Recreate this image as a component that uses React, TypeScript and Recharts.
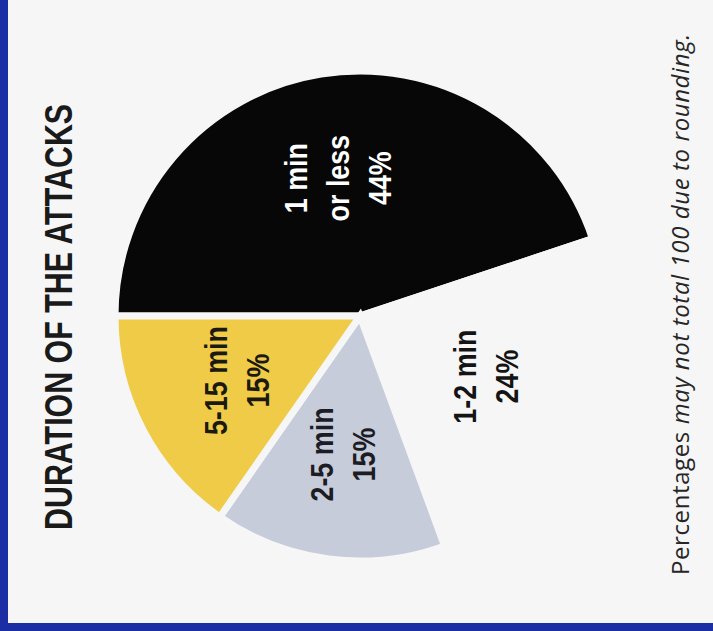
import { Cell, Pie, PieChart } from "recharts";

const categories = ["1 min or less", "1-2 min", "2-5 min", "5-15 min"];
const shares = [44, 24, 15, 15];
const labelLines = [["1 min", "or less"], ["1-2 min"], ["2-5 min"], ["5-15 min"]];

const PAPER = "#f6f6f7";
const BLUE = "#1b2ea3";
const COLORS = ["#070707", PAPER, "#c6ccda", "#efcb47"];
const TEXT_COLORS = ["#ffffff", "#141414", "#1c1c24", "#1c1a10"];
const HEAVY = '"Liberation Sans", Arial, sans-serif';

const data = categories.map((name, i) => ({ name, value: shares[i] }));

const RADIAN = Math.PI / 180;

const renderLabel = (props: any) => {
	const { cx, cy, midAngle, outerRadius } = props;
	const index = props.index ?? categories.indexOf(props.name);
	const r = outerRadius * 0.57;
	const x = cx + r * Math.cos(-midAngle * RADIAN);
	const y = cy + r * Math.sin(-midAngle * RADIAN);
	const lines = [...labelLines[index], `${shares[index]}%`];
	const lh = 42;
	// narrow the bold face like the condensed type of the print
	return (
		<text
			transform={`translate(${x},${y}) scale(0.84,1)`}
			textAnchor="middle"
			fill={TEXT_COLORS[index]}
			fontFamily={HEAVY}
			fontWeight="bold"
			fontSize={32}
		>
			{lines.map((line, i) => (
				<tspan key={i} x={0} y={(i - (lines.length - 1) / 2) * lh} dy="0.36em">
					{line}
				</tspan>
			))}
		</text>
	);
};

const App = () => {
	return (
		<div
			style={{
				position: "absolute",
				left: 0,
				top: 0,
				width: 713,
				height: 631,
				background: PAPER,
				overflow: "hidden",
			}}
		>
			{/* upright card, turned a quarter turn like the scan */}
			<div
				style={{
					position: "absolute",
					left: 0,
					top: 0,
					width: 631,
					height: 713,
					transformOrigin: "0 0",
					transform: "translate(0px, 631px) rotate(-90deg)",
				}}
			>
				<div
					style={{
						position: "absolute",
						left: 101,
						top: 40,
						fontFamily: HEAVY,
						fontWeight: "bold",
						fontSize: 38,
						lineHeight: "38px",
						color: "#1a1a1a",
						whiteSpace: "nowrap",
						transformOrigin: "0 0",
						transform: "scale(0.8, 1)",
					}}
				>
					DURATION OF THE ATTACKS
				</div>

				<PieChart width={631} height={713} margin={{ top: 0, right: 0, bottom: 0, left: 0 }}>
					<Pie
						data={data}
						dataKey="value"
						nameKey="name"
						cx={315}
						cy={360}
						outerRadius={245}
						startAngle={90}
						endAngle={-270}
						stroke={PAPER}
						strokeWidth={7}
						label={renderLabel}
						labelLine={false}
						isAnimationActive={false}
					>
						{data.map((_, index) => (
							<Cell key={index} fill={COLORS[index]} />
						))}
					</Pie>
				</PieChart>

				<div
					style={{
						position: "absolute",
						left: 56,
						top: 668,
						fontFamily: '"Open Sans", "Noto Sans", sans-serif',
						fontSize: 24,
						lineHeight: "24px",
						letterSpacing: 0.6,
						color: "#262626",
						whiteSpace: "nowrap",
					}}
				>
					Percentages <i>may not total 100 due to rounding.</i>
				</div>
			</div>

			<div style={{ position: "absolute", left: 0, top: 0, width: 8, height: 631, background: BLUE }} />
			<div style={{ position: "absolute", left: 0, top: 623, width: 713, height: 8, background: BLUE }} />
		</div>
	);
};

export default App;
